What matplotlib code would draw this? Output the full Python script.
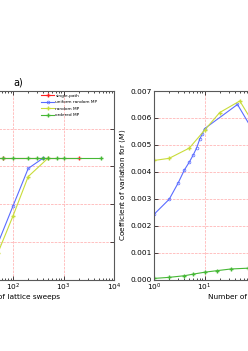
import matplotlib
matplotlib.use("Agg")
import matplotlib.pyplot as plt
from matplotlib.ticker import LogLocator, MultipleLocator

# ---- data: panel a) ----
a_single_x = [64, 2048]
a_single_y = [0.645, 0.645]
a_uniform_x = [50, 100, 200, 400]
a_uniform_y = [0.19, 0.39, 0.589, 0.645]
a_random_x = [50, 100, 200, 500]
a_random_y = [0.14, 0.337, 0.546, 0.645]
a_ordered_x = [10, 20, 50, 64, 100, 200, 300, 400, 500, 750, 1000, 5500]
a_ordered_y = [0.645] * 12

# ---- data: panel b) ----
b_uniform_x = [1, 2, 3, 4, 5, 6, 7, 8, 9, 10, 45, 100]
b_uniform_y = [0.00242, 0.00298, 0.00358, 0.00407, 0.00436, 0.00463,
               0.00489, 0.0052, 0.0054, 0.0056, 0.0065, 0.0054]
b_random_x = [1, 2, 5, 10, 20, 50, 100]
b_random_y = [0.00442, 0.0045, 0.00488, 0.00554, 0.0062, 0.00663, 0.0057]
b_ordered_x = [1, 2, 4, 6, 10, 18, 33, 72, 100]
b_ordered_y = [0.00004, 0.00008, 0.00014, 0.0002, 0.00027, 0.00033,
               0.00039, 0.00042, 0.00043]

labels = ["single-path", "uniform random MP", "random MP", "ordered MP"]
c_red, c_blue, c_yel, c_grn = "#ff2020", "#5a6cff", "#c9dc3a", "#46b835"

FS = 5.3
fig = plt.figure(figsize=(2.48, 3.51), dpi=100)
W, H = 248.0, 351.0
top, bot = 91.0, 279.5
ax1 = fig.add_axes([-88 / W, (H - bot) / H, 202 / W, (bot - top) / H])
ax2 = fig.add_axes([154 / W, (H - bot) / H, 202 / W, (bot - top) / H])

def style(ax):
    ax.set_xscale("log")
    ax.grid(True, which="major", color="#ffa8a8", linestyle="--", linewidth=0.5)
    ax.tick_params(which="both", direction="in", top=True, right=True,
                   labelsize=FS, colors="black", width=0.5, pad=1.5)
    ax.tick_params(which="major", length=3)
    ax.tick_params(which="minor", length=1.5)
    ax.xaxis.set_minor_locator(LogLocator(base=10, subs=range(2, 10), numticks=20))
    for s in ax.spines.values():
        s.set_color("0.35")
        s.set_linewidth(0.8)
    ax.set_xlabel("Number of lattice sweeps", fontsize=FS, labelpad=0.5)

style(ax1)
style(ax2)

lw, ms = 0.8, 3
ax1.plot(a_single_x, a_single_y, color=c_red, lw=lw, marker="+", ms=ms, label=labels[0])
ax1.plot(a_uniform_x, a_uniform_y, color=c_blue, lw=lw, marker="o", ms=2, mfc="none", mew=0.5, label=labels[1])
ax1.plot(a_random_x, a_random_y, color=c_yel, lw=lw, marker="+", ms=ms, label=labels[2])
ax1.plot(a_ordered_x, a_ordered_y, color=c_grn, lw=lw, marker="+", ms=ms, label=labels[3])
ax1.set_xlim(1, 1e4)
ax1.set_ylim(0, 1.0)
ax1.yaxis.set_major_locator(MultipleLocator(0.2))
ax1.legend(loc="upper right", fontsize=3.1, frameon=False, handlelength=2.8,
           borderaxespad=0.2, labelspacing=0.6, handletextpad=0.4,
           bbox_to_anchor=(0.93, 1.0))
ax1.text(0.5, 1.02, "a)", transform=ax1.transAxes, fontsize=7, ha="left", va="bottom")

ax2.plot(b_uniform_x, b_uniform_y, color=c_blue, lw=lw, marker="o", ms=2, mfc="none", mew=0.5)
ax2.plot(b_random_x, b_random_y, color=c_yel, lw=lw, marker="+", ms=ms)
ax2.plot(b_ordered_x, b_ordered_y, color=c_grn, lw=lw, marker="+", ms=ms)
ax2.set_xlim(1, 1e4)
ax2.set_ylim(0, 0.007)
ax2.yaxis.set_major_locator(MultipleLocator(0.001))
ax2.yaxis.set_major_formatter(matplotlib.ticker.FormatStrFormatter("%.3f"))
ax2.set_ylabel(r"Coefficient of variation for $\langle M\rangle$", fontsize=FS, labelpad=2)

fig.savefig("out.png", dpi=100, facecolor="white")
